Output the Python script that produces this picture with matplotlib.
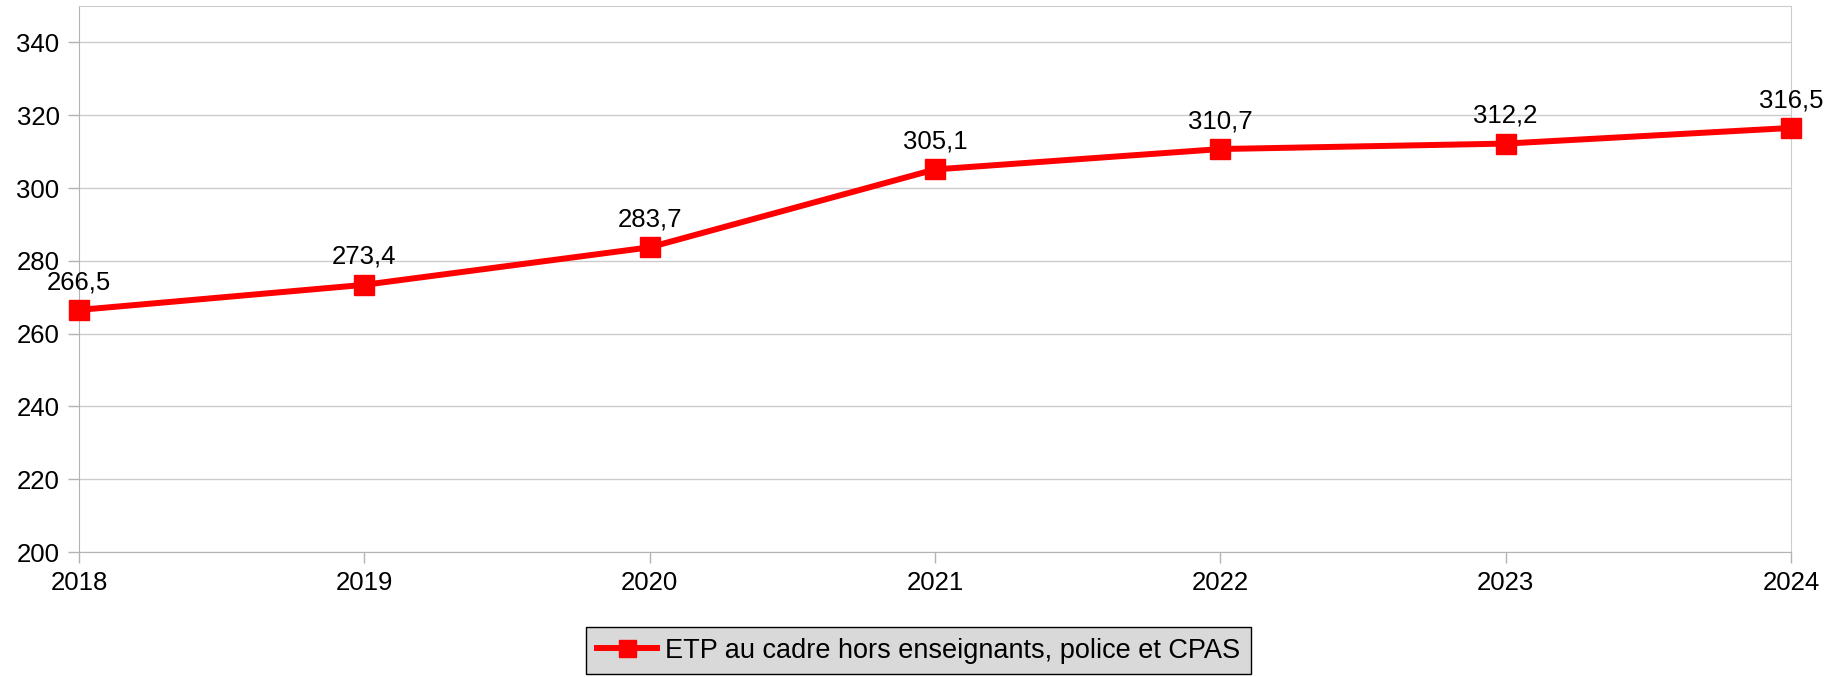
import matplotlib.pyplot as plt

# données
annees = ["2018", "2019", "2020", "2021", "2022", "2023", "2024"]
etp = [266.5, 273.4, 283.7, 305.1, 310.7, 312.2, 316.5]
serie = "ETP au cadre hors enseignants, police et CPAS"

plt.rcParams['font.family'] = ['Liberation Sans', 'DejaVu Sans']

fig = plt.figure(figsize=(18.46, 6.77), dpi=100)
ax = fig.add_axes([79 / 1846, 125 / 677, 1712 / 1846, 546 / 677])

x = list(range(len(annees)))
ax.plot(x, etp, color="#ff0000", lw=4.3, marker="s", ms=14.4,
        label=serie, clip_on=False, zorder=3)

for xi, v in zip(x, etp):
    ax.annotate(f"{v:.1f}".replace(".", ","), (xi, v), xytext=(0, 15),
                textcoords="offset points", ha="center", va="baseline",
                fontsize=18.5, zorder=4)

ax.set_xlim(0, len(annees) - 1)
ax.set_ylim(200, 350)
ax.set_yticks(range(200, 341, 20))
ax.set_xticks(x)
ax.set_xticklabels(annees)
ax.tick_params(labelsize=18.5, length=8, color="#b3b3b3", width=1)
ax.tick_params(axis="y", pad=6)
ax.tick_params(axis="x", pad=6)
ax.grid(axis="y", color="#cccccc", lw=1)
ax.set_axisbelow(True)
for s in ax.spines.values():
    s.set_color("#cccccc")
ax.spines["left"].set_color("#b3b3b3")
ax.spines["bottom"].set_color("#b3b3b3")

leg = fig.legend(loc="center", bbox_to_anchor=(918.5 / 1846, 1 - 650.5 / 677),
                 fontsize=19.5, frameon=True, fancybox=False, markerscale=0.85,
                 handlelength=2.2, borderpad=0.4, handletextpad=0.3,
                 borderaxespad=0)
leg.get_frame().set_facecolor("#d9d9d9")
leg.get_frame().set_edgecolor("#000000")
leg.get_frame().set_alpha(1)

fig.savefig("out.png", dpi=100)
